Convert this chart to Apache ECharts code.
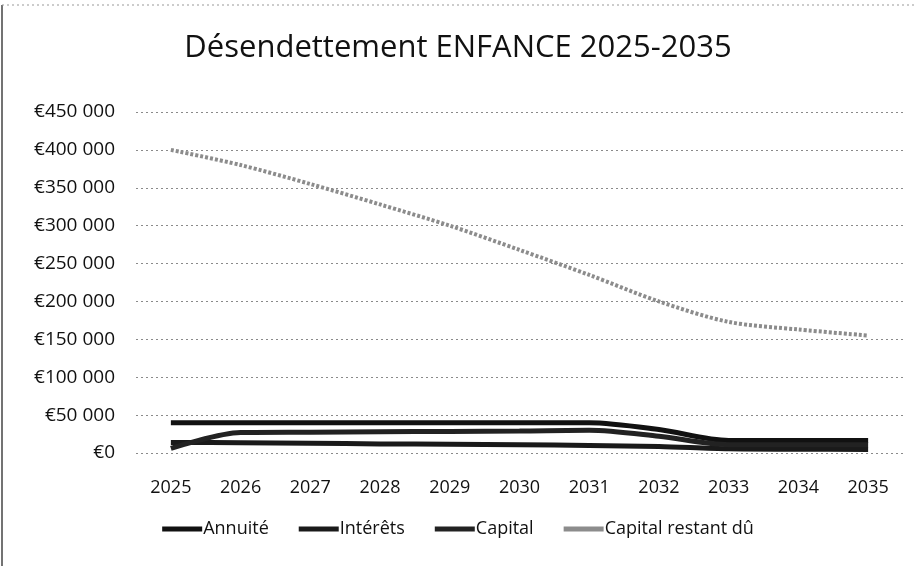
<!DOCTYPE html>
<html>
<head>
<meta charset="utf-8">
<script src="https://cdn.jsdelivr.net/npm/echarts@6/dist/echarts.min.js"></script>
<style>
  html, body { margin: 0; padding: 0; background: #fff; }
  #chart { width: 916px; height: 566px; }
</style>
</head>
<body>
<div id="chart"></div>
<script>
// années
var years = ['2025', '2026', '2027', '2028', '2029', '2030', '2031', '2032', '2033', '2034', '2035'];
// valeurs (en euros)
var annuite = [40000, 40000, 40000, 40000, 40000, 40000, 40000, 31000, 16500, 16500, 16500];
var interets = [14000, 13500, 13000, 12000, 11500, 11000, 10000, 8500, 5500, 5000, 4600];
var capital = [6000, 27000, 27500, 28000, 28500, 29000, 30000, 22000, 11000, 11000, 11000];
var capitalRestant = [400000, 380000, 355000, 328000, 300000, 268000, 235000, 200000, 173000, 163000, 155000];

var chart = echarts.init(document.getElementById('chart'));

// format "€450 000"
function euro(v) {
  return '€' + String(v).replace(/\B(?=(\d{3})+(?!\d))/g, ' ');
}

var font = 'Open Sans';

var option = {
  animation: false,
  backgroundColor: '#fff',
  title: {
    text: 'Désendettement ENFANCE 2025-2035',
    left: 'center',
    top: 28,
    textStyle: { fontFamily: font, fontSize: 31, fontWeight: 'normal', color: '#111' }
  },
  grid: { left: 136, right: 13, top: 112, bottom: 113, containLabel: false },
  legend: {
    bottom: 23,
    left: 'center',
    itemWidth: 40,
    itemHeight: 5,
    itemGap: 30,
    textStyle: { fontFamily: font, fontSize: 18, color: '#111', padding: [0, 0, 0, -4] },
    data: [
      { name: 'Annuité', icon: 'rect' },
      { name: 'Intérêts', icon: 'rect' },
      { name: 'Capital', icon: 'rect' },
      { name: 'Capital restant dû', icon: 'rect' }
    ]
  },
  xAxis: {
    type: 'category',
    data: years,
    boundaryGap: true,
    axisLine: { show: false },
    axisTick: { show: false },
    axisLabel: { fontFamily: font, fontSize: 18, color: '#111', margin: 26 }
  },
  yAxis: {
    type: 'value',
    min: 0,
    max: 450000,
    interval: 50000,
    axisLine: { show: false },
    axisTick: { show: false },
    axisLabel: { fontFamily: font, fontSize: 19, color: '#111', margin: 21, formatter: euro },
    splitLine: { lineStyle: { color: '#8a8a8a', width: 1, type: [2, 3] } }
  },
  series: [
    {
      name: 'Annuité', type: 'line', data: annuite, smooth: 0.3, symbol: 'none',
      color: '#111', lineStyle: { width: 5, color: '#111' }
    },
    {
      name: 'Intérêts', type: 'line', data: interets, smooth: 0.3, symbol: 'none',
      color: '#1a1a1a', lineStyle: { width: 5, color: '#1a1a1a' }
    },
    {
      name: 'Capital', type: 'line', data: capital, smooth: 0.3, symbol: 'none',
      color: '#222', lineStyle: { width: 5, color: '#222' }
    },
    {
      name: 'Capital restant dû', type: 'line', data: capitalRestant, smooth: 0.3, symbol: 'none',
      color: '#8c8c8c', lineStyle: { width: 4, color: '#8c8c8c', type: [3, 2] }
    }
  ],
  graphic: [
    { type: 'line', shape: { x1: 2, y1: 5, x2: 2, y2: 566 }, style: { stroke: '#444', lineWidth: 1.5 } },
    { type: 'line', shape: { x1: 2, y1: 5, x2: 916, y2: 5 }, style: { stroke: '#999', lineWidth: 1, lineDash: [2, 3] } }
  ]
};

chart.setOption(option);
</script>
</body>
</html>
